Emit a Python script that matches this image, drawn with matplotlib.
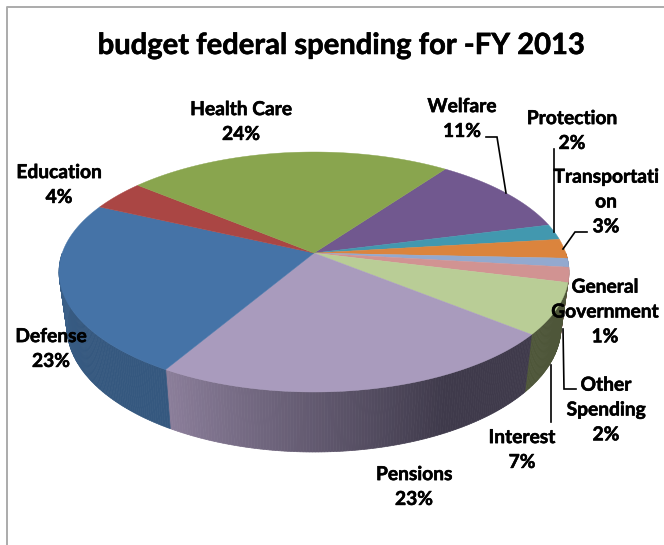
import numpy as np
import matplotlib
matplotlib.use("Agg")
import matplotlib.pyplot as plt
from matplotlib.patches import Polygon
from matplotlib.colors import to_rgb
import matplotlib.patheffects as pe

# ---- data (clockwise from the Welfare / Health Care boundary) ----
names = ["Welfare", "Protection", "Transportati\non", "General\nGovernment", "Other\nSpending",
         "Interest", "Pensions", "Defense", "Education", "Health Care"]
values = [11, 2.1, 2.6, 1.2, 2, 6.9, 22.7, 23.4, 4.1, 24]
pct_labels = ["11%", "2%", "3%", "1%", "2%", "7%", "23%", "23%", "4%", "24%"]
top_colors = ["#71588F", "#4298AF", "#DB843D", "#93A9CF", "#D19392",
              "#B9CD96", "#A99BBD", "#4573A7", "#AA4644", "#89A54E"]
wall_left = ["#5a4672", "#35798c", "#af6a31", "#7687a6", "#a77675",
             "#4e5639", "#8b7e9a", "#41678f", "#883836", "#6e843e"]
wall_right = ["#5a4672", "#35798c", "#af6a31", "#7687a6", "#a77675",
              "#4e5639", "#3f3a4b", "#35587f", "#883836", "#6e843e"]
title = "budget federal spending for -FY 2013"
start_deg = 54.0

# ---- projection of the tilted pie ----
CX, CY, RX, RY = 314.0, 272.0, 255.0, 120.0
BCY, BRX, BRY = 327.0, 247.0, 125.0
D = 0.158


def proj(theta):
    X, Y = np.cos(theta), np.sin(theta)
    den = 1 + D * Y
    return X * np.sqrt(1 - D * D) / den, (Y + D) / den


fig = plt.figure(figsize=(6.64, 5.45), dpi=100)
ax = fig.add_axes([0, 0, 1, 1])
ax.set_xlim(0, 664)
ax.set_ylim(545, 0)
ax.axis("off")

# chart frame
ax.plot([6.5, 6.5, 664], [545, 6.5, 6.5], color="#ababab", lw=1.4, zorder=1)

edges = start_deg - np.cumsum([0] + values) * 3.6

# side wall, as thin vertical strips so it shades from side to side
for i in range(len(values)):
    th = np.radians(np.linspace(edges[i], edges[i + 1], max(4, int(values[i] * 6))))
    xp, yp = proj(th)
    n = len(th) - 1
    c0, c1 = np.array(to_rgb(wall_left[i])), np.array(to_rgb(wall_right[i]))
    for j in range(n):
        if yp[j] > 0.15 and yp[j + 1] > 0.15:
            continue
        f = np.clip((j / max(n - 1, 1) - 0.3) / 0.7, 0, 1)   # drawn clockwise: last strip is the left end
        col = c1 * (1 - f) + c0 * f
        quad = [(CX + RX * xp[j], CY - RY * yp[j]),
                (CX + RX * xp[j + 1], CY - RY * yp[j + 1]),
                (CX + BRX * xp[j + 1], BCY - BRY * yp[j + 1]),
                (CX + BRX * xp[j], BCY - BRY * yp[j])]
        ax.add_patch(Polygon(quad, closed=True, fc=col, ec=col, lw=0.5, zorder=2))

# top face
for i in range(len(values)):
    th = np.radians(np.linspace(edges[i], edges[i + 1], max(8, int(values[i] * 6))))
    xp, yp = proj(th)
    pts = [(CX, CY - RY * D)] + list(zip(CX + RX * xp, CY - RY * yp))
    ax.add_patch(Polygon(pts, closed=True, fc=top_colors[i], ec=top_colors[i], lw=0.3, zorder=4))

font = "Lato"
heavy = [pe.withStroke(linewidth=0.4, foreground="black")]
ax.text(341, 46, title, ha="center", va="center", fontsize=21, fontweight="bold", family=font,
        color="black", zorder=8, path_effects=heavy)

label_pos = [(462, 119), (572, 131), (606, 202), (605, 312), (606, 410),
             (522, 450), (414, 487), (51, 349), (59, 185), (241, 122)]
for nm, p, (x, y) in zip(names, pct_labels, label_pos):
    ax.text(x, y, nm + "\n" + p, ha="center", va="center", fontsize=13.8, fontweight="bold",
            family=font, color="black", linespacing=1.56, zorder=8, path_effects=heavy)

leaders = [[(486, 137), (497, 137), (506, 193)],
           [(554, 149), (554, 232)],
           [(587, 232), (575, 232), (563, 249)],
           [(563, 329), (564, 389), (576, 389)],
           [(551, 365), (551, 422)]]
for ln in leaders:
    xs, ys = zip(*ln)
    ax.plot(xs, ys, color="black", lw=1.2, zorder=7, solid_joinstyle="miter")

fig.savefig("out.png", dpi=100)
